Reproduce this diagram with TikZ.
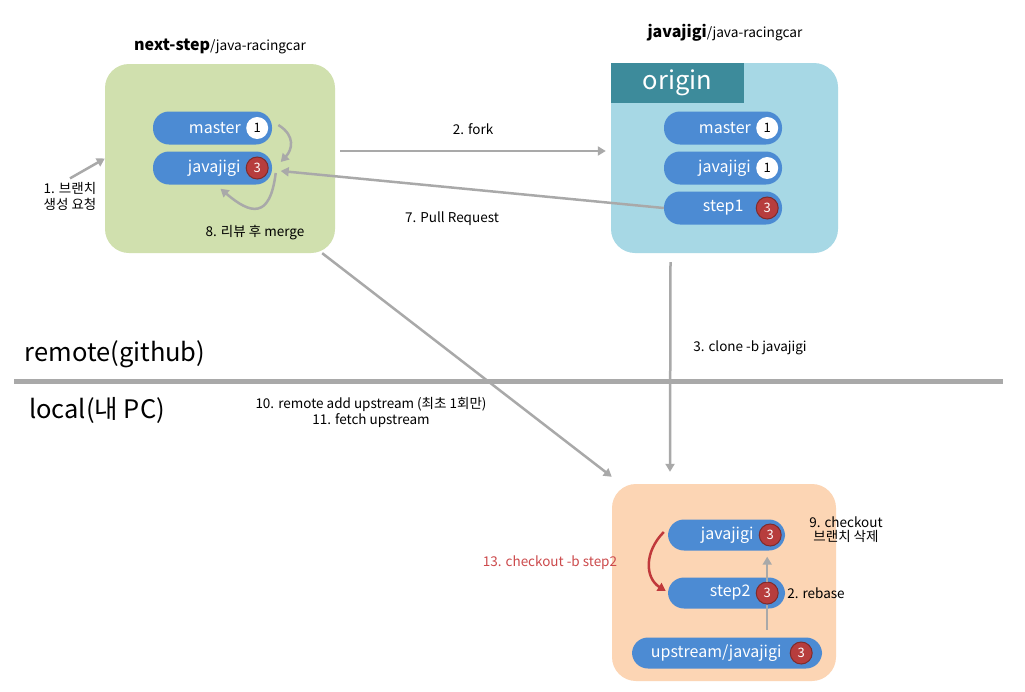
\documentclass[tikz,border=0pt]{standalone}
\usepackage{fontspec}
\setmainfont{Noto Sans CJK KR}
\usetikzlibrary{arrows.meta,positioning}
\definecolor{greenbg}{HTML}{D0E0AE}
\definecolor{bluebg}{HTML}{A7D8E5}
\definecolor{tealtab}{HTML}{3D8B9B}
\definecolor{orangebg}{HTML}{FCD5B4}
\definecolor{pillblue}{HTML}{4C8BD3}
\definecolor{arrowgray}{HTML}{A9A9A9}
\definecolor{badgered}{HTML}{B73D3D}
\definecolor{redarrow}{HTML}{C0393B}
\definecolor{redtext}{HTML}{CC4A4C}

\begin{document}
\begin{tikzpicture}[x=1pt,y=-1pt,
  repo/.style={rectangle, rounded corners=24pt, inner sep=0pt},
  pill/.style={rectangle, rounded corners=16pt, fill=pillblue, minimum height=33pt, inner sep=0pt},
  pilltext/.style={text=white, inner sep=0pt, font=\fontsize{16}{18}\selectfont},
  badge/.style={circle, minimum size=22pt, inner sep=0pt, font=\fontsize{13}{14}\selectfont},
  wbadge/.style={badge, fill=white, text=black},
  rbadge/.style={badge, fill=badgered, draw=badgered!70!black, line width=1pt, text=white},
  lbl/.style={text=black, font=\fontsize{13.5}{16}\selectfont, align=center},
  big/.style={font=\fontsize{25.5}{28}\selectfont},
  line/.style={arrowgray, line width=2.5pt},
  arrow/.style={line, -{Triangle[length=8pt,width=9pt]}}
]
  \useasboundingbox[fill=white] (0,0) rectangle (1025,691);

  % next-step repository
  \node[repo, fill=greenbg, minimum width=230pt, minimum height=189pt] (gbox) at (220,158.5) {};
  \node at (220,46) {\fontsize{16}{18}\selectfont\bfseries next-step\fontsize{13.7}{16}\mdseries\selectfont/java-racingcar};
  \node[pill, minimum width=119pt] (gmaster) at (212.5,128) {};
  \node[wbadge] (gmasterb) at ([xshift=-15pt]gmaster.east) {1};
  \node[pilltext, left=5pt of gmasterb] {master};
  \node[pill, minimum width=119pt] (gjava) at (212.5,168) {};
  \node[rbadge] (gjavab) at ([xshift=-15pt]gjava.east) {3};
  \node[pilltext, left=5pt of gjavab] {javajigi};
  \node[lbl] (req) at (70,196) {1. 브랜치\\생성 요청};
  \node[lbl] (merge) at (255,233) {8. 리뷰 후 merge};

  % javajigi repository
  \node[repo, fill=bluebg, minimum width=227pt, minimum height=190pt] (obox) at (724.5,158) {};
  \node[fill=tealtab, minimum width=133pt, minimum height=40pt, anchor=north west] (otab) at (obox.north west) {};
  \node[big, text=white] at (otab) {origin};
  \node at (725,33) {\fontsize{16}{18}\selectfont\bfseries javajigi\fontsize{13.7}{16}\mdseries\selectfont/java-racingcar};
  \node[pill, minimum width=118pt] (omaster) at (723,128) {};
  \node[wbadge] (omasterb) at ([xshift=-15pt]omaster.east) {1};
  \node[pilltext, left=5pt of omasterb] {master};
  \node[pill, minimum width=118pt] (ojava) at (723,168) {};
  \node[wbadge] (ojavab) at ([xshift=-15pt]ojava.east) {1};
  \node[pilltext, left=5pt of ojavab] {javajigi};
  \node[pill, minimum width=118pt] (ostep) at (723,208) {};
  \node[rbadge] (ostepb) at ([xshift=-15pt]ostep.east) {3};
  \node[pilltext, left=12pt of ostepb] {step1};

  % local PC
  \node[repo, fill=orangebg, minimum width=224pt, minimum height=197pt] (lbox) at (724,582.5) {};
  \node[pill, minimum width=117pt, minimum height=31pt] (ljava) at (726.5,535) {};
  \node[rbadge] (ljavab) at ([xshift=-15pt]ljava.east) {3};
  \node[pilltext, left=5pt of ljavab] {javajigi};
  \node[pill, minimum width=117pt, minimum height=31pt] (lstep) at (726.5,593) {};
  \node[rbadge] (lstepb) at ([xshift=-18pt]lstep.east) {3};
  \node[pilltext, left=5pt of lstepb] {step2};
  \node[pill, minimum width=190pt, minimum height=31pt] (lup) at (727,653) {};
  \node[rbadge] (lupb) at ([xshift=-21pt]lup.east) {3};
  \node[pilltext, left=8pt of lupb] {upstream/javajigi};
  \node[lbl] (rebase) at (816,593) {2. rebase};
  \node[lbl, font=\fontsize{13.5}{14}\selectfont] (del) at (846,530) {9. checkout\\브랜치 삭제};
  \node[lbl, text=redtext] (co) at (550,563) {13. checkout -b step2};

  % remote / local
  \draw[arrowgray, line width=5pt] (14,381) -- (1003,381);
  \node[big] (remote) at (115,354) {remote(github)};
  \node[big] (local) at (97,410) {local(내 PC)};

  % connectors
  \draw[arrow] (req.north) -- (gbox.west);
  \draw[arrow] ([xshift=10pt,yshift=3pt]gmasterb.east) .. controls (296,136) and (292,150) .. ([xshift=12pt,yshift=6pt]gjavab.east);
  \draw[arrow] ([xshift=7pt,yshift=-5pt]gjavab.east) .. controls (270,220) and (250,214) .. ([xshift=8pt,yshift=-4pt]gjava.south);
  \draw[arrow] ([xshift=5pt,yshift=7.5pt]gbox.east) -- node[lbl, above=12pt] (fork) {2. fork} ([xshift=-5pt,yshift=7pt]obox.west);
  \draw[arrow] (ostep.west) -- ([xshift=12pt,yshift=-3pt]gjavab.east);
  \node[lbl] (pr) at (452,219) {7. Pull Request};
  \draw[arrow] ([xshift=-54pt,yshift=-9pt]obox.south) -- ([xshift=-54pt,yshift=12pt]lbox.north);
  \node[lbl] (clone) at (750,348) {3. clone -b javajigi};
  \draw[arrow] ([xshift=-13pt]gbox.south east) -- ([yshift=7pt]lbox.north west);
  \node[lbl] (fetch) at (371,412) {10. remote add upstream (최초 1회만)\\11. fetch upstream};
  \draw[line] (lstepb.south) -- ([yshift=7pt]lstepb.south |- lup.north);
  \draw[arrow] (lstepb.north) -- ([yshift=-6pt]lstepb.north |- ljava.south);
  \draw[redarrow, line width=2.5pt, -{Triangle[length=8pt,width=9pt]}] ([xshift=-4pt,yshift=3pt]ljava.west) .. controls (644,552) and (645,578) .. ([xshift=-2pt,yshift=2pt]lstep.west);
\end{tikzpicture}
\end{document}
